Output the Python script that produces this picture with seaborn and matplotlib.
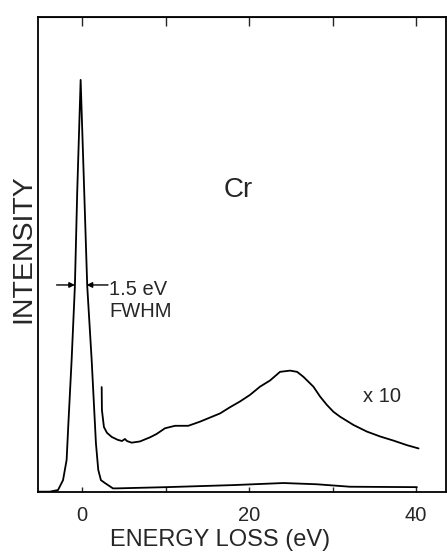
import matplotlib
matplotlib.use("Agg")
import matplotlib.pyplot as plt
import seaborn as sns
import pandas as pd

# zero-loss peak + plasmon tail (as measured)
zl_energy = [-5.4, -3.9, -2.9, -2.3, -1.87, -1.68, -1.27, -0.88, -0.6, -0.19,
             0.24, 0.6, 1.13, 1.64, 1.92, 2.24, 2.72, 3.68, 4.12, 10.1,
             18.1, 24.1, 28.1, 32.1, 40.1]
zl_intensity = [0.0, 0.0, 0.4, 2.8, 7.7, 15.7, 32.0, 49.9, 72.8, 100.0,
                72.8, 49.9, 32.0, 11.8, 5.3, 2.8, 2.1, 0.8, 0.8, 1.1,
                1.6, 2.1, 1.8, 1.2, 1.1]

# same spectrum magnified x10
x10_energy = [2.33, 2.36, 2.6, 2.96, 3.53, 4.24, 4.76, 5.12, 5.36, 5.92,
              6.92, 8.12, 8.9, 9.92, 11.12, 11.7, 12.71, 14.11, 16.51, 17.7,
              18.9, 20.1, 21.3, 22.5, 23.7, 24.9, 25.75, 26.5, 27.1, 27.7,
              28.5, 29.3, 30.1, 30.9, 32.5, 34.1, 35.7, 37.3, 38.9, 40.3]
x10_intensity = [25.4, 19.8, 15.7, 14.3, 13.3, 12.6, 12.3, 12.8, 12.3, 11.9,
                 12.2, 13.2, 14.0, 15.4, 16.0, 16.0, 16.0, 17.0, 19.0, 20.5,
                 21.9, 23.5, 25.5, 27.0, 29.1, 29.4, 29.1, 27.9, 26.7, 25.5,
                 23.1, 21.1, 19.4, 18.2, 16.2, 14.6, 13.4, 12.4, 11.3, 10.5]

major_ticks = [0, 20, 40]
minor_ticks = [10, 30]
top_ticks = [0, 10, 20, 30, 40]

zl_df = pd.DataFrame({"energy": zl_energy, "intensity": zl_intensity})
x10_df = pd.DataFrame({"energy": x10_energy, "intensity": x10_intensity})

sns.set_style("ticks")
plt.rcParams["font.family"] = ["Liberation Sans", "DejaVu Sans"]

fig = plt.figure(figsize=(4.47, 5.54), dpi=100)
ax = fig.add_axes([0.085, 0.1125, 0.913, 0.857])

sns.lineplot(data=zl_df, x="energy", y="intensity", color="black", lw=1.3, ax=ax, sort=False)
sns.lineplot(data=x10_df, x="energy", y="intensity", color="black", lw=1.3, ax=ax, sort=False)

ax.set_xlim(-5.3, 43.6)
ax.set_ylim(0, 115.3)
ax.set_yticks([])
ax.set_xticks(major_ticks)
ax.set_xticks(minor_ticks, minor=True)
ax.set_xticklabels([str(t) for t in major_ticks], fontsize=14.5)
ax.tick_params(axis="x", which="both", direction="in", length=3.6, width=1, pad=10)
for s in ax.spines.values():
    s.set_linewidth(1.3)
    s.set_color("black")

top = ax.secondary_xaxis("top")
top.set_xticks(top_ticks)
top.set_xticklabels([])
top.tick_params(direction="in", length=6.5, width=1)

ax.set_xlabel("ENERGY LOSS (eV)", fontsize=17)
ax.xaxis.set_label_coords(0.446, -0.078)
ax.set_ylabel("INTENSITY", fontsize=20.5)
ax.yaxis.set_label_coords(-0.003, 0.511)

ax.text(0.49, 0.621, "Cr", transform=ax.transAxes, fontsize=20, ha="center", va="baseline")
ax.text(3.2, 47.8, "1.5 eV", fontsize=14.5, va="baseline")
ax.text(3.3, 42.5, "FWHM", fontsize=14.5, va="baseline")
ax.text(33.7, 21.8, "x 10", fontsize=14.5, va="baseline")

arrow = dict(arrowstyle="-|>", color="black", lw=1, mutation_scale=8, shrinkA=0, shrinkB=0)
ax.annotate("", xy=(-0.88, 50.2), xytext=(-3.07, 50.2), arrowprops=arrow)
ax.annotate("", xy=(0.53, 50.2), xytext=(3.09, 50.2), arrowprops=arrow)

fig.savefig("out.png", dpi=100)
